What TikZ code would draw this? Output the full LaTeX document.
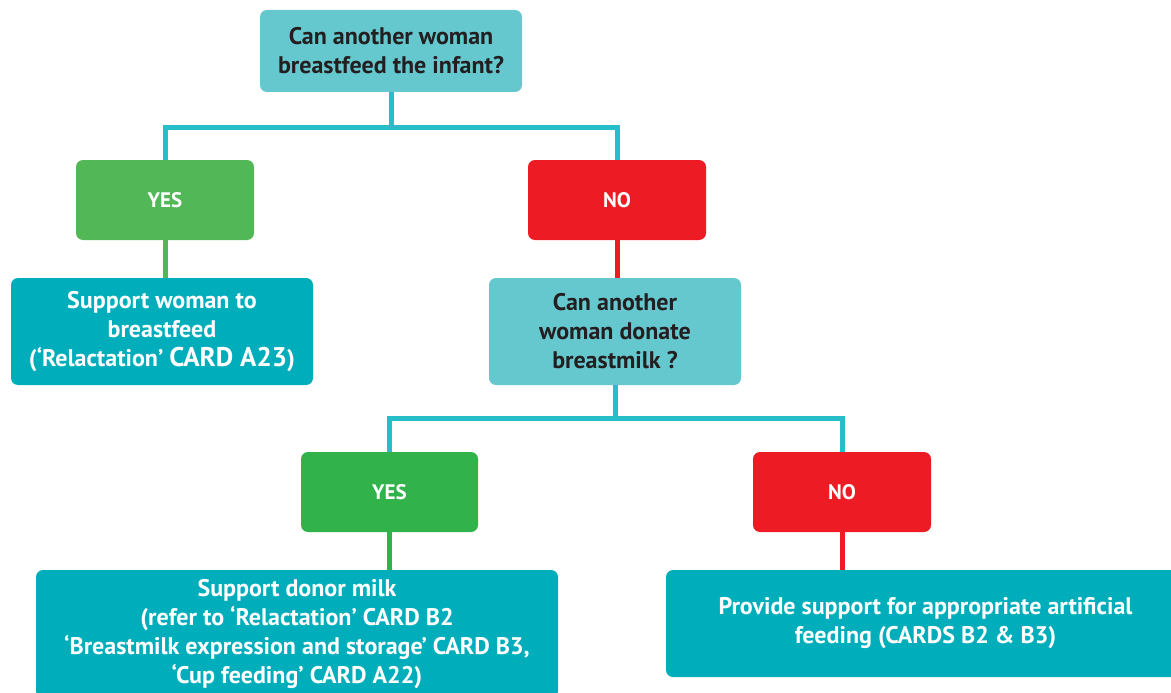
\documentclass[tikz,border=0pt]{standalone}
\usepackage{fontspec}
\setmainfont{PT Sans}
\definecolor{qteal}{HTML}{66C8CF}
\definecolor{dteal}{HTML}{00AEBB}
\definecolor{lteal}{HTML}{26BFC9}
\definecolor{gone}{HTML}{52B857}
\definecolor{gtwo}{HTML}{32B24A}
\definecolor{rred}{HTML}{ED1C24}
\definecolor{txt}{HTML}{231F20}
\begin{document}
\begin{tikzpicture}[x=1pt,y=-1pt,
  box/.style={rectangle, rounded corners=7pt, inner sep=0pt, align=center,
    font=\bfseries\fontsize{24}{29}\selectfont},
  qbox/.style={box, fill=qteal, text=txt},
  abox/.style={box, fill=dteal, text=white},
  ybox/.style={box, text=white, minimum width=178pt, minimum height=80pt,
    font=\bfseries\fontsize{21}{29}\selectfont},
  conn/.style={draw=lteal, line width=5pt},
  gline/.style={line width=5pt},
]
\useasboundingbox (0,0) rectangle (1171,693);
\node[qbox, minimum width=262pt, minimum height=82pt] (top) at (391,51)
  {Can another woman\\breastfeed the infant?};
\node[ybox, fill=gone] (yes1) at (165,200) {YES};
\node[ybox, fill=rred] (no1) at (617,200) {NO};
\node[abox, minimum width=302pt, minimum height=107pt] (sw) at (162,331.5)
  {Support woman to\\breastfeed\\(‘Relactation’ {\fontsize{27}{29}\selectfont CARD A23})};
\node[qbox, minimum width=252pt, minimum height=107pt] (q2) at (615,331.5)
  {Can another\\woman donate\\breastmilk ?};
\node[ybox, fill=gtwo, minimum width=177pt] (yes2) at (389.5,492) {YES};
\node[ybox, fill=rred] (no2) at (842,492) {NO};
\node[abox, minimum width=522pt, minimum height=128pt] (donor) at (297,634)
  {Support donor milk\\(refer to ‘Relactation’ CARD B2\\‘Breastmilk expression and storage’ CARD B3,\\‘Cup feeding’ CARD A22)};
\node[abox, minimum width=519pt, minimum height=107pt] (art) at (925.5,623.5)
  {Provide support for appropriate artificial\\feeding (CARDS B2 \& B3)};
\coordinate (j1) at (391,127.5);
\coordinate (j2) at (615,418.5);
\draw[conn] (top.south) -- (j1);
\draw[conn] (yes1.north) |- (j1) -| (no1.north);
\draw[gline, draw=gone] (yes1.south) -- (yes1.south |- sw.north);
\draw[gline, draw=rred] (no1.south) -- (no1.south |- q2.north);
\draw[conn] (q2.south) -- (j2);
\draw[conn] (yes2.north) |- (j2) -| (no2.north);
\draw[gline, draw=gtwo] (yes2.south) -- (yes2.south |- donor.north);
\draw[gline, draw=rred] (no2.south) -- (no2.south |- art.north);
\end{tikzpicture}
\end{document}
